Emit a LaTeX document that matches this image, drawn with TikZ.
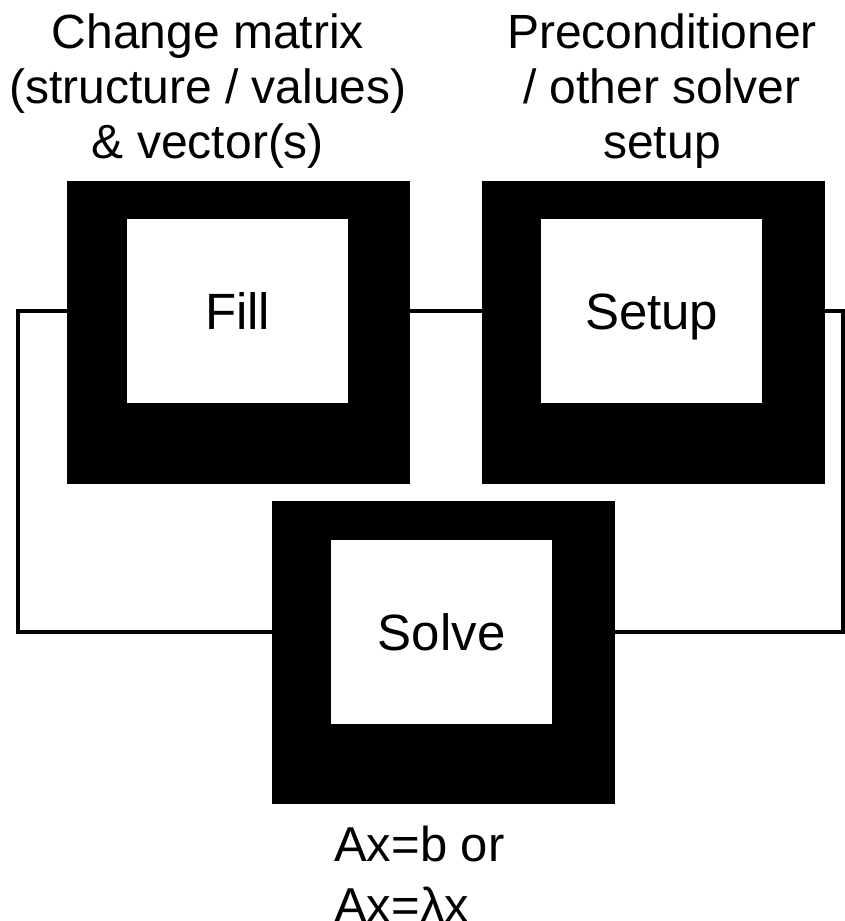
\documentclass[tikz,border=0pt]{standalone}
\usepackage{fontspec}
\setmainfont{Liberation Sans}

\tikzset{
  frame/.style={fill=black, minimum width=343pt, minimum height=303pt, inner sep=0pt, anchor=north west},
  stage/.style={fill=white, minimum width=221pt, minimum height=184pt, inner sep=0pt, anchor=north west,
    text height=36.5pt, text depth=0pt, font=\fontsize{51}{55}\selectfont},
  wire/.style={line width=4pt},
  caption/.style={inner sep=0pt, align=center, font=\fontsize{48}{55}\selectfont}
}

\begin{document}
\begin{tikzpicture}[x=1pt,y=-1pt]
    \useasboundingbox (0,0) rectangle (844,921);
    % black frames
    \node[frame] (fillbox) at (67,181) {};
    \node[frame] (setupbox) at (482,181) {};
    \node[frame] (solvebox) at (272,501) {};
    % white stages inside the frames
    \node[stage] (fill) at ([xshift=60pt,yshift=-38pt]fillbox.north west) {Fill};
    \node[stage] (setup) at ([xshift=59pt,yshift=-38pt]setupbox.north west) {Setup};
    \node[stage] (solve) at ([xshift=59pt,yshift=-39pt]solvebox.north west) {Solve};
    % the loop
    \draw[wire] (fillbox.west |- fill) -- ++(-49,0) |- (solvebox.west |- solve);
    \draw[wire] (fillbox.east |- fill) -- (setupbox.west |- setup);
    \draw[wire] (setupbox.east |- setup) -- ++(18,0) |- (solvebox.east |- solve);
    % labels
    \node[caption, anchor=north] (filltxt) at (208,14) {Change matrix\\(structure / values)\\\& vector(s)};
    \node[caption, anchor=north] (setuptxt) at (662,14) {Preconditioner\\/ other solver\\setup};
    \node[caption, anchor=north west, align=left, font=\fontsize{49}{61}\selectfont] (solvetxt) at (334,826) {Ax=b or\\Ax=λx};
\end{tikzpicture}
\end{document}
